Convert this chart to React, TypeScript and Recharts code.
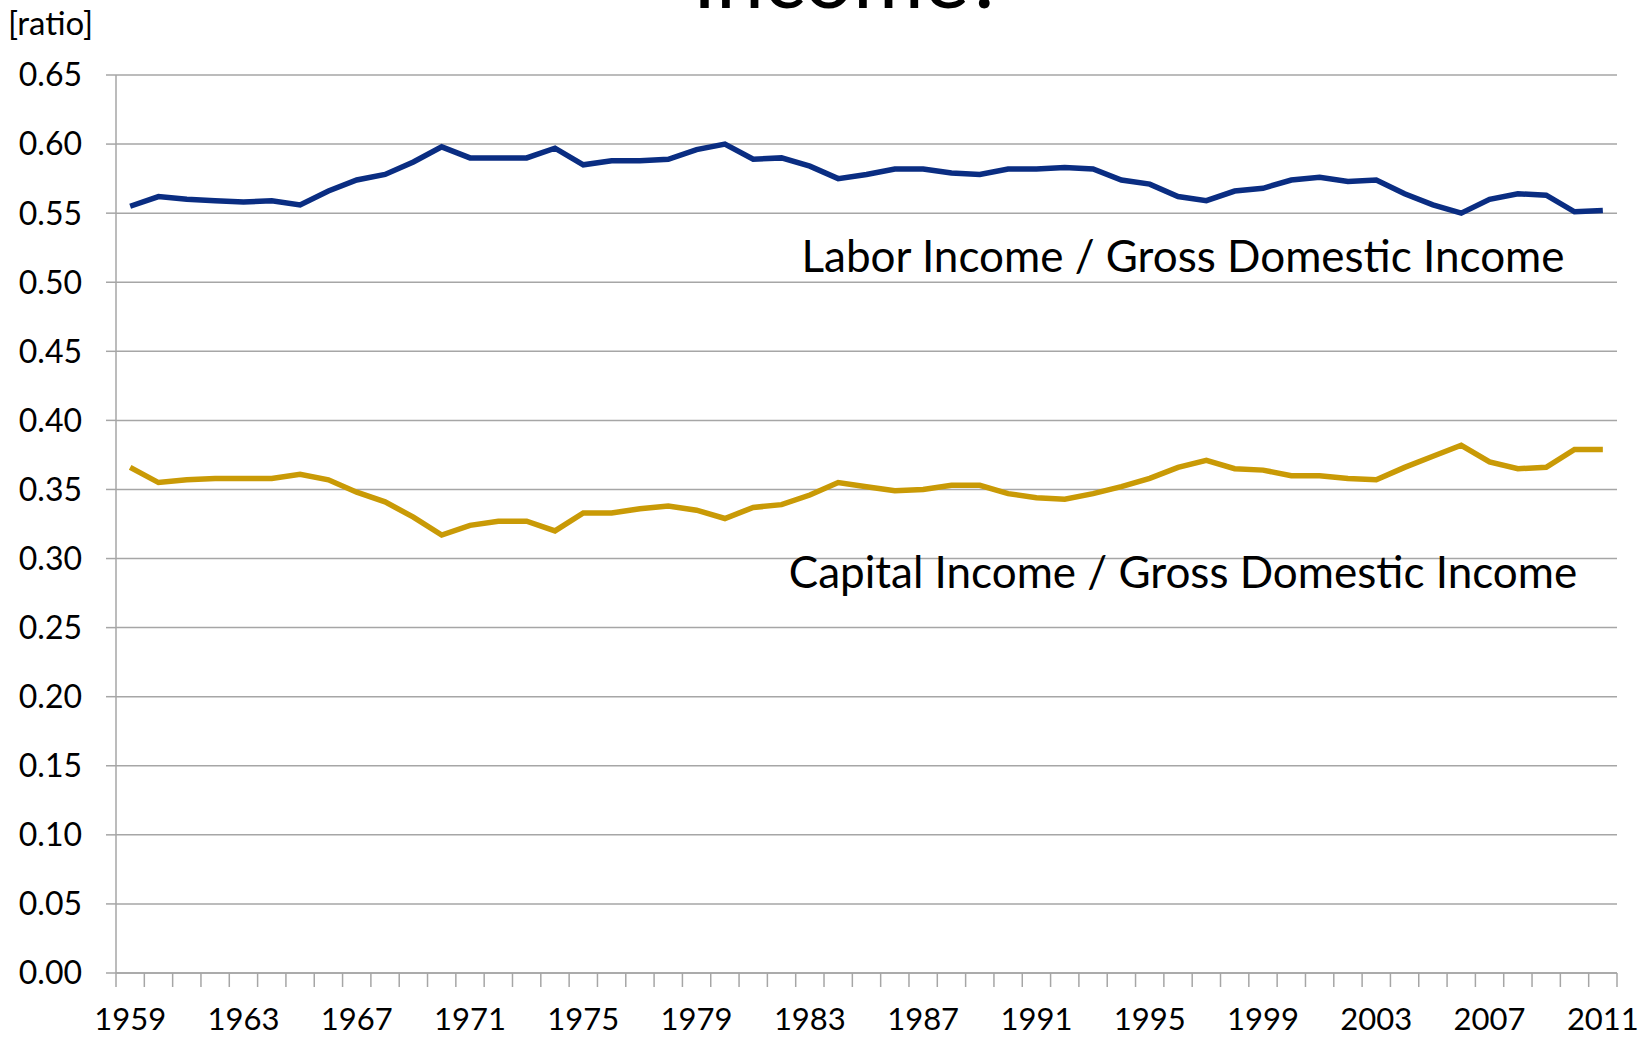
import React from 'react';
import { LineChart, Line, XAxis, YAxis, CartesianGrid } from 'recharts';

const years = [
  1959, 1960, 1961, 1962, 1963, 1964, 1965, 1966, 1967, 1968,
  1969, 1970, 1971, 1972, 1973, 1974, 1975, 1976, 1977, 1978,
  1979, 1980, 1981, 1982, 1983, 1984, 1985, 1986, 1987, 1988,
  1989, 1990, 1991, 1992, 1993, 1994, 1995, 1996, 1997, 1998,
  1999, 2000, 2001, 2002, 2003, 2004, 2005, 2006, 2007, 2008,
  2009, 2010, 2011,
];

const laborShare = [
  0.555, 0.562, 0.560, 0.559, 0.558, 0.559, 0.556, 0.566, 0.574, 0.578,
  0.587, 0.598, 0.590, 0.590, 0.590, 0.597, 0.585, 0.588, 0.588, 0.589,
  0.596, 0.600, 0.589, 0.590, 0.584, 0.575, 0.578, 0.582, 0.582, 0.579,
  0.578, 0.582, 0.582, 0.583, 0.582, 0.574, 0.571, 0.562, 0.559, 0.566,
  0.568, 0.574, 0.576, 0.573, 0.574, 0.564, 0.556, 0.550, 0.560, 0.564,
  0.563, 0.551, 0.552,
];

const capitalShare = [
  0.366, 0.355, 0.357, 0.358, 0.358, 0.358, 0.361, 0.357, 0.348, 0.341,
  0.330, 0.317, 0.324, 0.327, 0.327, 0.320, 0.333, 0.333, 0.336, 0.338,
  0.335, 0.329, 0.337, 0.339, 0.346, 0.355, 0.352, 0.349, 0.350, 0.353,
  0.353, 0.347, 0.344, 0.343, 0.347, 0.352, 0.358, 0.366, 0.371, 0.365,
  0.364, 0.360, 0.360, 0.358, 0.357, 0.366, 0.374, 0.382, 0.370, 0.365,
  0.366, 0.379, 0.379,
];

const yearLabels = [1959, 1963, 1967, 1971, 1975, 1979, 1983, 1987, 1991, 1995, 1999, 2003, 2007, 2011];
const yTicks = [0, 0.05, 0.1, 0.15, 0.2, 0.25, 0.3, 0.35, 0.4, 0.45, 0.5, 0.55, 0.6, 0.65];

const data = years.map((year, i) => ({ year, labor: laborShare[i], capital: capitalShare[i] }));
const boundaries = [years[0] - 0.5, ...years.map((y) => y + 0.5)];
const xDomain = [years[0] - 0.5, years[years.length - 1] + 0.5];

const FONT = 'Lato, "Open Sans", sans-serif';
const GRID = '#a6a6a6';

export default function App() {
  return (
    <div style={{ position: 'absolute', left: 0, top: 0, width: 1649, height: 1038, background: '#fff', fontFamily: FONT }}>
      <LineChart
        width={1649}
        height={1038}
        data={data}
        margin={{ top: 75, right: 32, bottom: 0, left: 0 }}
      >
        <CartesianGrid vertical={false} stroke={GRID} strokeWidth={1.5} />
        <XAxis
          xAxisId="a"
          dataKey="year"
          type="number"
          domain={xDomain}
          ticks={boundaries}
          interval={0}
          tickFormatter={() => ''}
          tick={{ fontSize: 1, fill: 'none' }}
          tickSize={14}
          height={14}
          axisLine={{ stroke: GRID, strokeWidth: 1.5 }}
          tickLine={{ stroke: GRID, strokeWidth: 1.5 }}
        />
        <XAxis
          xAxisId="b"
          dataKey="year"
          type="number"
          domain={xDomain}
          ticks={yearLabels}
          interval={0}
          axisLine={false}
          tickLine={false}
          tickSize={0}
          tickMargin={21}
          height={51}
          tick={{ fill: '#000', fontSize: 31, fontFamily: FONT }}
        />
        <YAxis
          type="number"
          domain={[0, 0.65]}
          ticks={yTicks}
          interval={0}
          width={116}
          tickSize={10}
          tickMargin={24}
          tickFormatter={(v: number) => v.toFixed(2)}
          tick={{ fill: '#000', fontSize: 32, fontFamily: FONT }}
          axisLine={{ stroke: GRID, strokeWidth: 1.5 }}
          tickLine={{ stroke: GRID, strokeWidth: 1.5 }}
        />
        <Line
          xAxisId="a"
          type="linear"
          dataKey="labor"
          stroke="#0a2d82"
          strokeWidth={5.5}
          dot={false}
          isAnimationActive={false}
        />
        <Line
          xAxisId="a"
          type="linear"
          dataKey="capital"
          stroke="#c99a06"
          strokeWidth={5.5}
          dot={false}
          isAnimationActive={false}
        />
      </LineChart>
      <svg width={1649} height={1038} style={{ position: 'absolute', left: 0, top: 0, pointerEvents: 'none' }}>
        <text x={849} y={8} textAnchor="middle" fontSize={86} fontFamily={FONT} fill="#000">Income?</text>
        <text x={8} y={35} fontSize={33} fontFamily={FONT} fill="#000">[ratio]</text>
        <text x={1183} y={272} textAnchor="middle" fontSize={44} fontFamily={FONT} fill="#000">Labor Income / Gross Domestic Income</text>
        <text x={1183} y={588} textAnchor="middle" fontSize={44} fontFamily={FONT} fill="#000">Capital Income / Gross Domestic Income</text>
      </svg>
    </div>
  );
}
